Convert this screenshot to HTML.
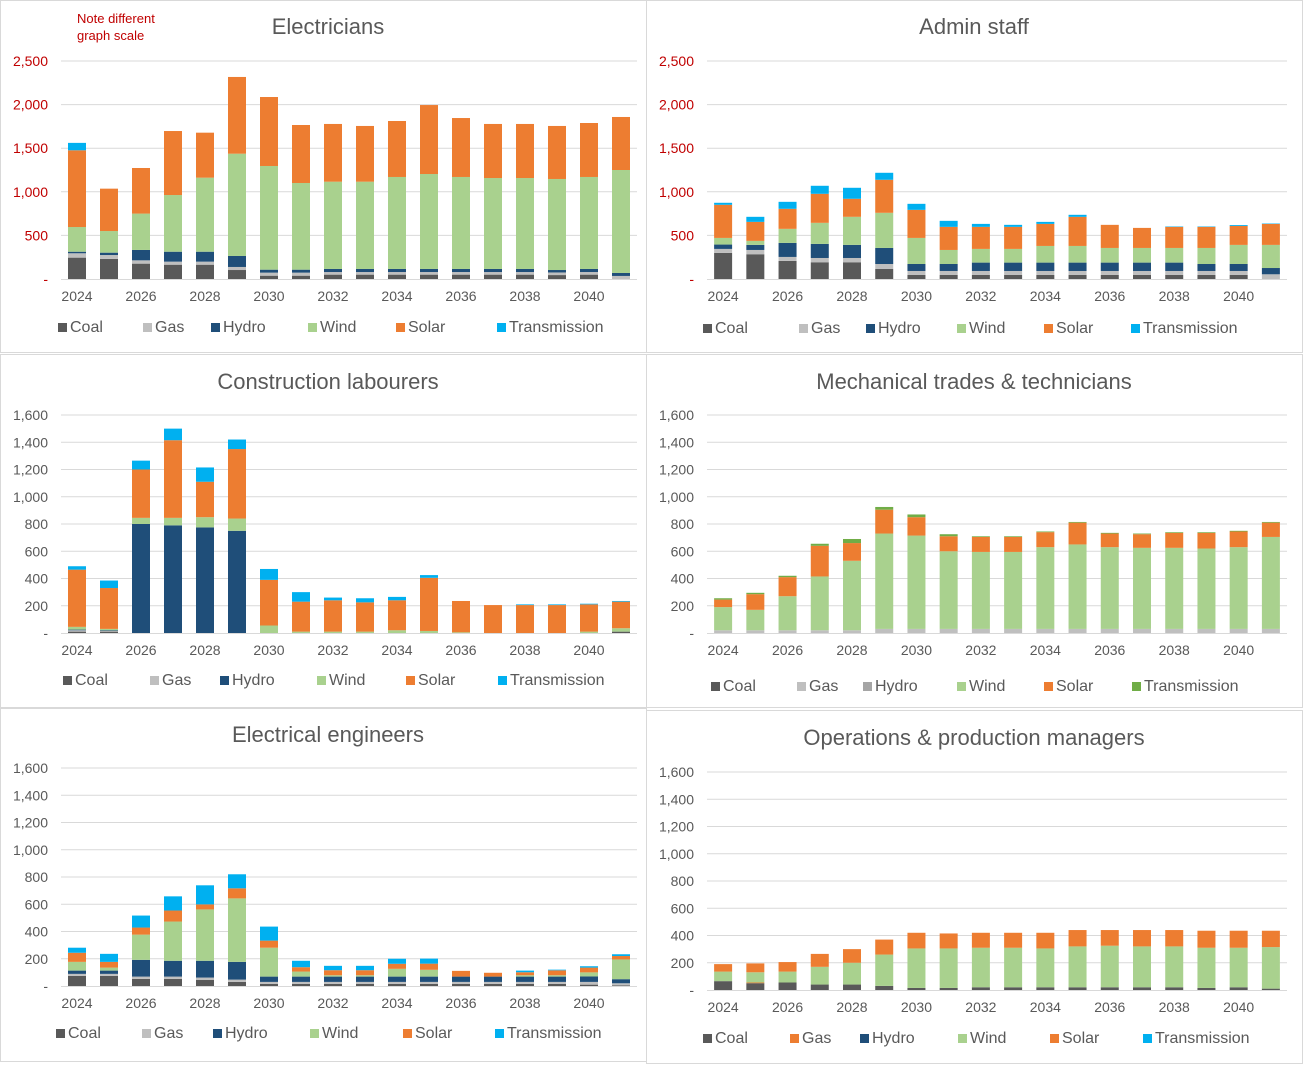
<!DOCTYPE html>
<html><head><meta charset="utf-8"><style>
html,body{margin:0;padding:0;background:#fff;}
svg{display:block;font-family:"Liberation Sans",sans-serif;}
</style></head><body>
<svg id="c" width="1303" height="1065" viewBox="0 0 1303 1065"></svg>
<script>
const years = [2024,2025,2026,2027,2028,2029,2030,2031,2032,2033,2034,2035,2036,2037,2038,2039,2040,2041];
const seriesNames = ["Coal","Gas","Hydro","Wind","Solar","Transmission"];

const electriciansCoal  = [245,230,176,164,164,103,38,38,50,50,50,50,50,50,50,45,50,0];
const electriciansGas   = [50,45,38,35,35,35,35,35,30,30,30,30,30,30,30,30,30,35];
const electriciansHydro = [18,27,119,114,114,126,34,34,35,35,35,35,35,35,35,28,35,34];
const electriciansWind  = [283,248,417,650,849,1173,1189,994,1001,1001,1055,1089,1055,1043,1043,1044,1055,1181];
const electriciansSolar = [880,486,523,734,516,880,791,665,662,639,642,791,676,620,620,608,619,608];
const electriciansTrans = [85,0,0,0,0,0,0,0,0,0,0,0,0,0,0,0,0,0];

const adminCoal  = [299,284,207,192,192,115,46,46,46,46,46,46,46,46,46,46,46,0];
const adminGas   = [46,49,46,49,49,57,46,46,46,46,46,46,46,46,46,46,46,54];
const adminHydro = [50,58,161,161,150,184,80,80,96,96,96,96,96,96,96,80,80,72];
const adminWind  = [76,46,161,242,322,403,299,161,157,157,191,191,168,168,168,184,219,265];
const adminSolar = [380,218,230,333,207,379,322,265,253,253,253,334,265,230,242,242,218,241];
const adminTrans = [23,58,80,92,126,80,69,69,34,23,23,23,0,0,5,5,10,5];

const labourCoal  = [10,10,0,0,0,0,0,0,0,0,0,0,0,0,0,0,0,10];
const labourGas   = [10,5,0,0,0,0,0,0,0,0,0,0,0,0,0,0,0,0];
const labourHydro = [5,5,800,790,775,750,0,0,0,0,0,0,0,0,0,0,0,0];
const labourWind  = [20,10,45,55,75,90,55,10,10,10,20,15,5,0,0,0,10,25];
const labourSolar = [420,300,355,570,260,510,335,220,230,215,220,390,230,205,205,205,200,195];
const labourTrans = [25,55,65,85,105,70,80,70,20,30,25,20,0,0,5,5,5,5];

const mechCoal  = [0,0,0,0,0,0,0,0,0,0,0,0,0,0,0,0,0,0];
const mechGas   = [20,20,20,20,20,30,30,30,30,30,30,30,30,30,30,30,30,30];
const mechHydro = [0,0,0,0,0,0,0,0,0,0,0,0,0,0,0,0,0,0];
const mechWind  = [170,150,250,395,510,700,685,570,565,565,600,620,600,595,595,590,600,675];
const mechSolar = [55,115,140,225,130,175,135,110,110,110,110,160,100,100,110,115,115,105];
const mechTrans = [10,10,10,15,30,20,20,15,5,5,5,5,5,5,5,5,5,5];

const engCoal  = [74,74,52,52,44,30,15,15,15,15,15,15,15,15,15,15,10,5];
const engGas   = [15,15,17,17,18,17,15,15,15,15,15,15,15,15,15,15,20,15];
const engHydro = [24,24,123,116,123,130,39,39,39,39,39,39,39,39,39,39,40,30];
const engWind  = [64,22,185,288,377,466,212,37,10,10,57,50,0,0,10,10,30,145];
const engSolar = [67,42,52,81,37,74,52,32,37,37,37,45,42,28,22,36,35,25];
const engTrans = [37,59,88,104,140,103,103,47,32,32,37,37,0,0,12,5,10,13];

const opsCoal  = [65,50,55,40,40,30,15,15,20,20,20,20,20,20,20,15,20,10];
const opsGas   = [0,5,0,0,0,0,0,0,0,0,0,0,0,0,0,0,0,0];
const opsHydro = [0,0,0,0,0,0,0,0,0,0,0,0,0,0,0,0,0,0];
const opsWind  = [70,75,80,130,160,230,290,290,290,290,285,300,305,300,300,295,290,305];
const opsSolar = [55,65,70,95,100,110,115,110,110,110,115,120,115,120,120,125,125,120];
const opsTrans = [0,0,0,0,0,0,0,0,0,0,0,0,0,0,0,0,0,0];

const ticksBig = [0,500,1000,1500,2000,2500];
const ticksSmall = [0,200,400,600,800,1000,1200,1400,1600];

const NS = "http://www.w3.org/2000/svg";
const svg = document.getElementById("c");
function mk(tag, attrs, parent, text){
  const e = document.createElementNS(NS, tag);
  for (const k in attrs) e.setAttribute(k, attrs[k]);
  if (text !== undefined) e.textContent = text;
  (parent||svg).appendChild(e);
  return e;
}
function fmt(v){ return v===0 ? "-" : v.toLocaleString("en-US"); }

const COLORS = ["#595959","#bfbfbf","#1f4e79","#a9d18e","#ed7d31","#00b0f0"];

function panel(p){
  const g = mk("g", {});
  
  
  const box = mk("rect", {x:p.bx+0.5, y:p.by+0.5, width:p.bw-1, height:p.bh-1, fill:"#fff", stroke:"#d9d9d9"}, g);
  
  
  const t = mk("text", {x:p.titleX, y:p.titleY, "font-size":22, fill:"#595959", "text-anchor":"middle"}, g, p.title);
  
  
  const ymax = p.ticks[p.ticks.length-1];
  const yS = v => p.y0 - (v/ymax)*(p.y0 - p.yTop);
  const step = (p.x1 - p.x0)/years.length;
  const xS = i => p.x0 + step*(i+0.5);
  p.ticks.forEach(v=>{
    if (v>0){
      const l = mk("line",{x1:p.x0,x2:p.x1,y1:yS(v),y2:yS(v),stroke:"#d9d9d9","stroke-width":1},g);
      
      
    }
    const tl = mk("text",{x:p.x0-13,y:yS(v)+5,"font-size":14,fill:p.tickColor,"text-anchor":"end"},g,fmt(v));
    
    
  });
  const ax = mk("line",{x1:p.x0,x2:p.x1,y1:p.y0+0.5,y2:p.y0+0.5,stroke:"#d9d9d9"},g);
  
  
  years.forEach((yr,i)=>{
    let base = 0;
    p.series.forEach((arr,s)=>{
      const v = arr[i];
      if (v>0){
        const r = mk("rect",{x:xS(i)-9,y:yS(base+v),width:18,height:yS(base)-yS(base+v),fill:p.colors[s]},g);
        
        
      }
      base += v;
    });
    if (i%2===0){
      const xl = mk("text",{x:xS(i),y:p.y0+22,"font-size":14,fill:"#595959","text-anchor":"middle"},g,String(yr));
      
      
    }
  });
  p.legendX.forEach((lx,s)=>{
    const sq = mk("rect",{x:lx,y:p.legendY-9,width:9,height:9,fill:p.legendColors[s]},g);
    
    
    const lt = mk("text",{x:lx+12,y:p.legendY,"font-size":16,fill:"#595959"},g,seriesNames[s]);
    
    
  });
}

const mechColors = ["#595959","#bfbfbf","#a5a5a5","#a9d18e","#ed7d31","#70ad47"];
const opsLegend = ["#595959","#ed7d31","#1f4e79","#a9d18e","#ed7d31","#00b0f0"];

panel({name:"electricians",title:"Electricians",bx:0,by:0,bw:647,bh:353,titleX:328,titleY:34,
  x0:61,x1:637,y0:279,yTop:61,ticks:ticksBig,tickColor:"#c00000",
  series:[electriciansCoal,electriciansGas,electriciansHydro,electriciansWind,electriciansSolar,electriciansTrans],
  colors:COLORS,legendColors:COLORS,legendX:[58,143,211,308,396,497],legendY:332});
panel({name:"admin-staff",title:"Admin staff",bx:646,by:0,bw:657,bh:353,titleX:974,titleY:34,
  x0:707,x1:1287,y0:279,yTop:61,ticks:ticksBig,tickColor:"#c00000",
  series:[adminCoal,adminGas,adminHydro,adminWind,adminSolar,adminTrans],
  colors:COLORS,legendColors:COLORS,legendX:[703,799,866,957,1044,1131],legendY:333});
panel({name:"construction-labourers",title:"Construction labourers",bx:0,by:354,bw:647,bh:354,titleX:328,titleY:389,
  x0:61,x1:637,y0:633,yTop:415,ticks:ticksSmall,tickColor:"#595959",
  series:[labourCoal,labourGas,labourHydro,labourWind,labourSolar,labourTrans],
  colors:COLORS,legendColors:COLORS,legendX:[63,150,220,317,406,498],legendY:685});
panel({name:"mechanical-trades",title:"Mechanical trades & technicians",bx:646,by:354,bw:657,bh:354,titleX:974,titleY:389,
  x0:707,x1:1287,y0:633,yTop:415,ticks:ticksSmall,tickColor:"#595959",
  series:[mechCoal,mechGas,mechHydro,mechWind,mechSolar,mechTrans],
  colors:mechColors,legendColors:mechColors,legendX:[711,797,863,957,1044,1132],legendY:691});
panel({name:"electrical-engineers",title:"Electrical engineers",bx:0,by:708,bw:647,bh:354,titleX:328,titleY:742,
  x0:61,x1:637,y0:986,yTop:768,ticks:ticksSmall,tickColor:"#595959",
  series:[engCoal,engGas,engHydro,engWind,engSolar,engTrans],
  colors:COLORS,legendColors:COLORS,legendX:[56,142,213,310,403,495],legendY:1038});
panel({name:"operations-managers",title:"Operations & production managers",bx:646,by:710,bw:657,bh:354,titleX:974,titleY:745,
  x0:707,x1:1287,y0:990,yTop:772,ticks:ticksSmall,tickColor:"#595959",
  series:[opsCoal,opsGas,opsHydro,opsWind,opsSolar,opsTrans],
  colors:opsLegend,legendColors:opsLegend,legendX:[703,790,860,958,1050,1143],legendY:1043});

const note1 = mk("text",{x:77,y:23,"font-size":13,fill:"#c00000"},svg,"Note different");


const note2 = mk("text",{x:77,y:40,"font-size":13,fill:"#c00000"},svg,"graph scale");


</script>
</body></html>
